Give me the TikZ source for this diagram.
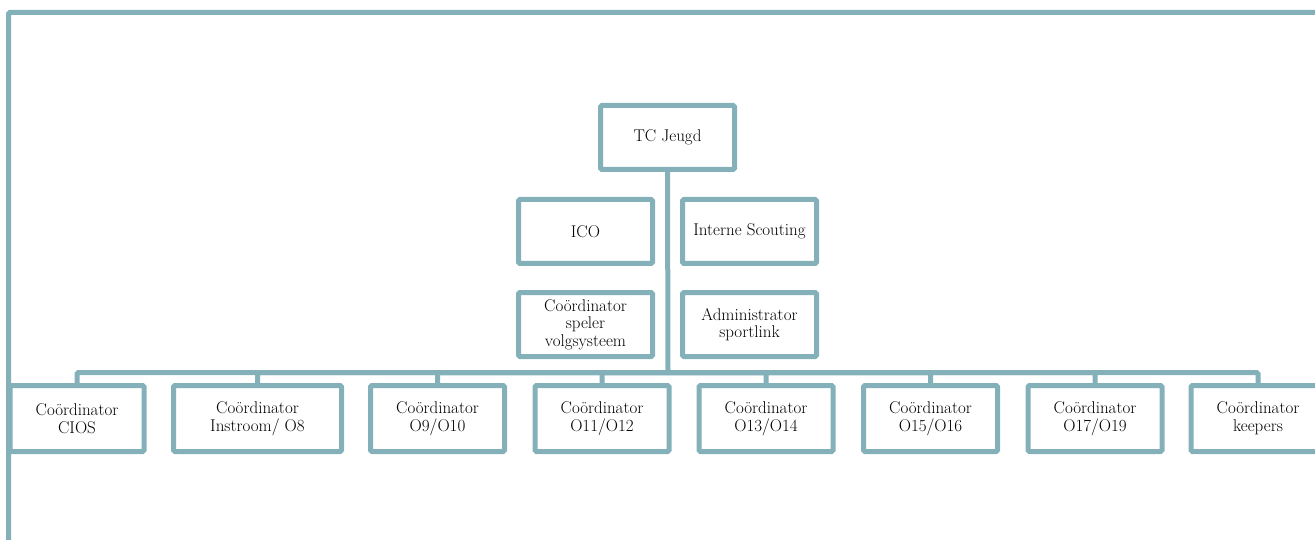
\documentclass[tikz,border=0pt]{standalone}
\begin{document}
\definecolor{teal}{RGB}{132,176,186}
\begin{tikzpicture}[x=1pt,y=-1pt,
  box/.style={draw=teal,line width=5pt,rounded corners=1.5pt,fill=white,align=center,
    minimum width=134pt,minimum height=64pt,inner sep=1pt,
    font=\fontsize{17}{17.7}\selectfont},
  lowbox/.style={box,minimum height=66pt},
  link/.style={draw=teal,line width=5pt,rounded corners=1.5pt}]
\useasboundingbox (0,0) rectangle (1315,540);
\clip (0,0) rectangle (1315,540);
% frame
\coordinate (fBL) at (8.5,548);
\coordinate (fTL) at (8.5,12.5);
\coordinate (fTR) at (1325,12.5);
\draw[link] (fBL) -- (fTL) -- (fTR);
% bus
\coordinate (bus) at (668,372.5);
% nodes
\node[box] (tc) at (667.5,137.5) {TC Jeugd};
\node[box] (ico) at (585.5,231.5) {ICO};
\node[box] (scout) at (749.5,231.5) {Interne Scouting};
\node[box] (volg) at (585.5,324.5) {Coördinator\\speler\\volgsysteem};
\node[box] (admin) at (749.5,324.5) {Administrator\\sportlink};
% connectors
\draw[link] (tc.south) -- (bus);
\node[lowbox] (b1) at (77,418.5) {Coördinator\\CIOS};
\node[lowbox,minimum width=168pt] (b2) at (257.5,418.5) {Coördinator\\Instroom/ O8};
\node[lowbox] (b3) at (437.5,418.5) {Coördinator\\O9/O10};
\node[lowbox] (b4) at (602,418.5) {Coördinator\\O11/O12};
\node[lowbox] (b5) at (766,418.5) {Coördinator\\O13/O14};
\node[lowbox] (b6) at (930.5,418.5) {Coördinator\\O15/O16};
\node[lowbox] (b7) at (1095,418.5) {Coördinator\\O17/O19};
\node[lowbox] (b8) at (1258,418.5) {Coördinator\\keepers};
\foreach \b in {b1,b2,b3,b4,b5,b6,b7,b8}{
  \draw[link] (\b.north) |- (bus);
}
\end{tikzpicture}
\end{document}
